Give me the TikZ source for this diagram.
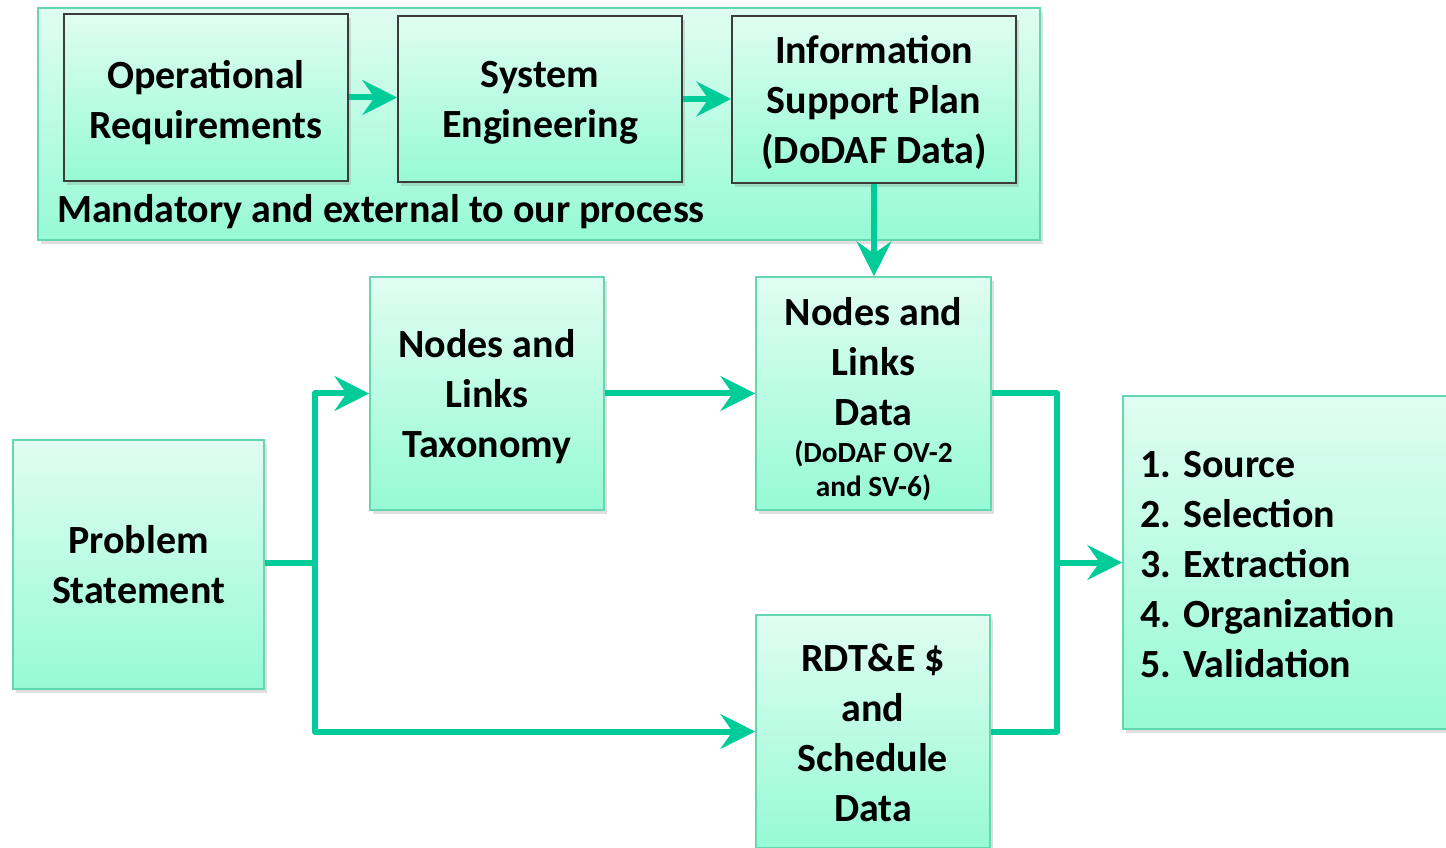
\documentclass[tikz,border=0pt]{standalone}
\usepackage{fontspec}
\setmainfont{Carlito}
\usetikzlibrary{arrows.meta,shadows}
\definecolor{arrc}{RGB}{0,204,153}
\definecolor{topc}{RGB}{224,253,242}
\definecolor{botc}{RGB}{150,250,214}
\definecolor{edgec}{RGB}{100,214,176}
\definecolor{darkedge}{RGB}{60,60,60}
\newcommand\pxu[1]{#1*0.75pt}
\newcommand\sm[1]{{\fontsize{22}{25}\selectfont #1}}
\newcommand\up[1]{\rule{0pt}{#1pt}}
\tikzset{
  box/.style={draw=edgec, line width=1.2pt, top color=topc, bottom color=botc,
    drop shadow={opacity=0.25, shadow xshift=2pt, shadow yshift=-3pt},
    align=center, inner sep=0pt, font=\fontsize{30}{37.5}\selectfont\bfseries},
  darkbox/.style={box, draw=darkedge},
  arr/.style={draw=arrc, line width=4.5pt, line join=round,
    -{Stealth[length=26pt, width=26pt, inset=9pt]}},
  conn/.style={draw=arrc, line width=4.5pt, line join=round},
  plaintxt/.style={inner sep=0pt, font=\fontsize{30}{37.5}\selectfont\bfseries}
}
\begin{document}
\begin{tikzpicture}[x=0.75pt, y=-0.75pt]
\clip (0,0) rectangle (1446,848);
\fill[white] (0,0) rectangle (1446,848);
% group box
\node[box, minimum width={\pxu{1002}}, minimum height={\pxu{232}}] (grp) at (539,124) {};
\node[plaintxt, anchor=west] (mand) at (57,212) {Mandatory and external to our process};
% top row
\node[darkbox, minimum width={\pxu{284}}, minimum height={\pxu{167}}] (opreq) at (206,97.5) {\up{28.5}Operational\\Requirements};
\node[darkbox, minimum width={\pxu{284}}, minimum height={\pxu{166}}] (syseng) at (540,99) {\up{25.5}System\\Engineering};
\node[darkbox, minimum width={\pxu{284}}, minimum height={\pxu{167}}] (isp) at (874,99.5) {\up{25.5}Information\\Support Plan\\(DoDAF Data)};
% middle
\node[box, minimum width={\pxu{234}}, minimum height={\pxu{233}}] (tax) at (487,393.5) {\up{25}Nodes and\\Links\\Taxonomy};
\node[box, minimum width={\pxu{235}}, minimum height={\pxu{233}}] (nld) at (873.5,393.5) {\up{30}Nodes and\\Links\\Data\\[-9.5pt]\sm{(DoDAF OV-2}\\[-12pt]\sm{and SV-6)}};
\node[box, minimum width={\pxu{251}}, minimum height={\pxu{249}}] (ps) at (138.5,564.5) {Problem\\Statement};
\node[box, minimum width={\pxu{234}}, minimum height={\pxu{233}}] (rdt) at (873,731.5) {\up{22.5}RDT\&E \$\\and\\Schedule\\Data};
\node[box, minimum width={\pxu{340}}, minimum height={\pxu{333}}] (lst) at (1293,562.5) {};
\node[plaintxt, anchor=west, align=left] (lsttxt) at (1140,564.5) {1. Source\\2. Selection\\3. Extraction\\4. Organization\\5. Validation};
% connectors
\draw[arr] (opreq.east) -- (opreq.east -| syseng.west);
\draw[arr] (syseng.east) -- (syseng.east -| isp.west);
\draw[arr] (isp.south) -- (isp.south |- nld.north);
\coordinate (j1) at (315,563);
\draw[conn] (ps.east |- j1) -- (j1);
\draw[arr] (j1) |- (tax.west);
\draw[arr] (j1) |- (rdt.west);
\draw[arr] (tax.east) -- (tax.east -| nld.west);
\coordinate (j2) at (1057,562.5);
\draw[conn] (nld.east) -| (j2);
\draw[conn] (rdt.east) -| (j2);
\draw[arr] (j2) -- (lst.west);
\end{tikzpicture}
\end{document}
